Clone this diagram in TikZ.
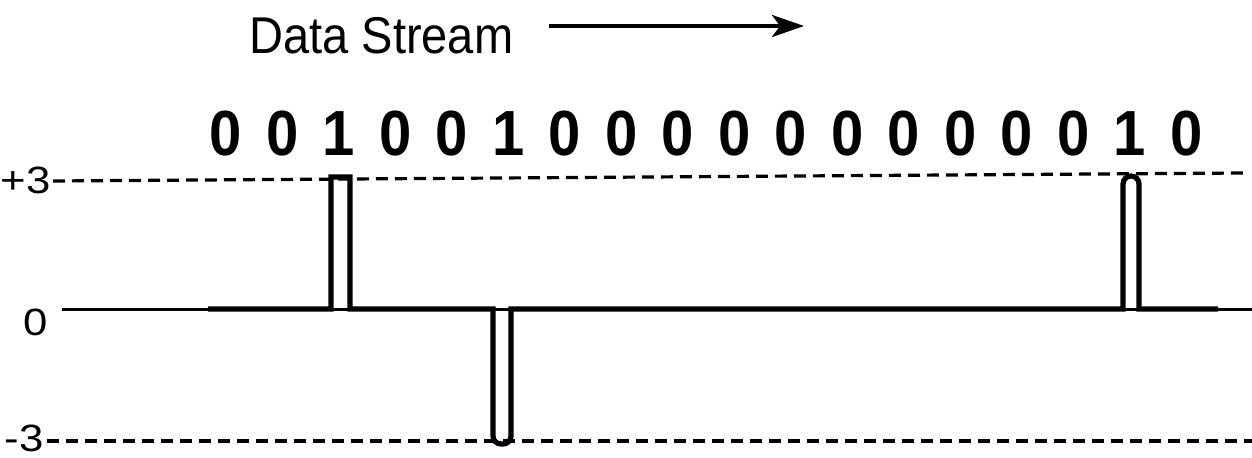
\documentclass[tikz,border=0pt]{standalone}
\usepackage{fontspec}
\setmainfont{Liberation Sans}
\usetikzlibrary{arrows.meta,positioning,calc}

\newcommand{\tall}[1]{\scalebox{1}[1.1]{#1}}
\newcommand{\wide}[1]{\scalebox{1.15}[1]{#1}}

\begin{document}
\begin{tikzpicture}[x=0.5pt,y=-0.5pt,>={Stealth[length=16pt,width=11pt,inset=4pt]},
  lbl/.style={inner sep=0pt,font=\fontsize{23.5}{28}\selectfont},
  lvllbl/.style={inner sep=0pt,anchor=base east,font=\fontsize{19}{23}\selectfont},
  bit/.style={inner sep=0pt,font=\fontsize{29}{34}\selectfont\bfseries},
  lvl/.style={line width=1.6pt,dash pattern=on 6pt off 3.5pt},
  sig/.style={line width=2.6pt}]
\useasboundingbox (0,0) rectangle (1252,458);
\node[lbl,anchor=base west](ds) at (249,54){\tall{Data Stream}};
\coordinate (tail) at (549,26);
\coordinate (tip) at (804,26);
\draw[->,line width=2pt] (tail) -- (tip);
% bits
\foreach \b [count=\i] in {0,0,1,0,0,1,0,0,0,0,0,0,0,0,0,0,1,0}
  \node[bit](b\i) at ({226+(\i-1)*56.5},134){\tall{\b}};
% levels
\node[lvllbl](p3) at (51,194){\wide{+3}};
\node[lvllbl](z0) at (48,336){\wide{0}};
\node[lvllbl](m3) at (44,452){\wide{-3}};
\coordinate (p3a) at (53,181);
\coordinate (p3e) at (1245,173);
\coordinate (m3a) at (47,441);
\coordinate (m3e) at (1252,441);
\coordinate (z0a) at (62,310);
\coordinate (z0e) at (1252,310);
\draw[lvl] (p3a) -- (p3e);
\draw[lvl] (m3a) -- (m3e);
\draw[line width=1.5pt] (z0a) -- (z0e);
% signal
\draw[sig] (208,309) -- (331,309) -- (331,177) -- (350,177) -- (350,309)
  -- (493,309) [rounded corners=4pt] -- (493,444) -- (511,444) [sharp corners] -- (511,309)
  -- (1123,309) [rounded corners=4pt] -- (1123,176) -- (1139,176) [sharp corners] -- (1139,309) -- (1218,309);
\end{tikzpicture}
\end{document}
